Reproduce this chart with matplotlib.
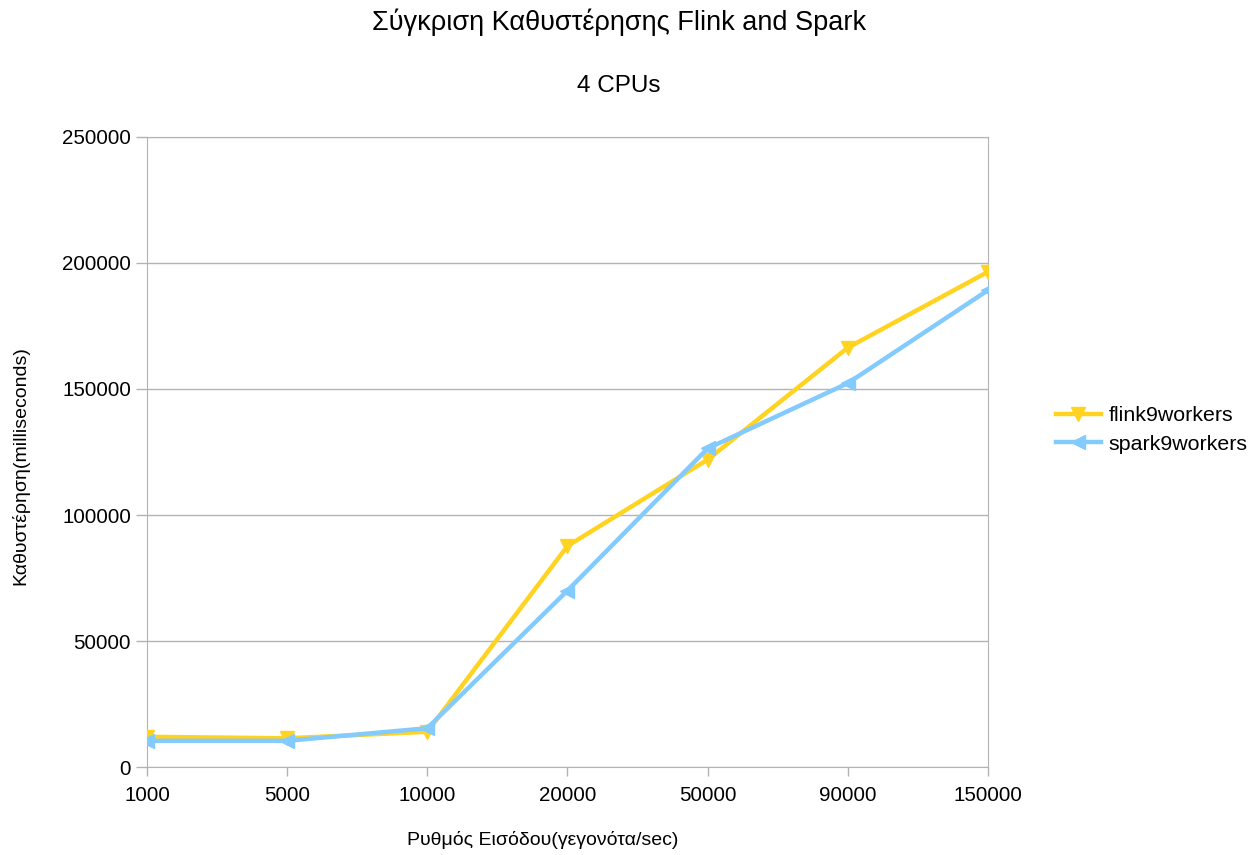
import matplotlib
matplotlib.use("Agg")
import matplotlib.pyplot as plt

categories = ["1000", "5000", "10000", "20000", "50000", "90000", "150000"]
flink = [12000, 11400, 14000, 87700, 122000, 166400, 196500]
spark = [10400, 10400, 15400, 70000, 126400, 152300, 189200]
yticks = [0, 50000, 100000, 150000, 200000, 250000]

plt.rcParams['font.family'] = ['Liberation Sans', 'DejaVu Sans']

fig = plt.figure(figsize=(12.56, 8.55), dpi=100)
ax = fig.add_axes([0.117, 0.1029, 0.6696, 0.7369])

x = list(range(len(categories)))
ax.plot(x, flink, color="#ffd320", lw=3.2, marker="v", ms=10.5, label="flink9workers", zorder=3)
ax.plot(x, spark, color="#83caff", lw=3.2, marker="<", ms=10.5, label="spark9workers", zorder=4)

ax.set_xlim(0, len(categories) - 1)
ax.set_ylim(0, 250000)
ax.set_xticks(x)
ax.set_xticklabels(categories)
ax.set_yticks(yticks)
ax.set_yticklabels([str(v) for v in yticks])
ax.grid(axis='y', color="#b3b3b3", lw=1)
ax.set_axisbelow(True)
for s in ax.spines.values():
    s.set_color("#b3b3b3")
ax.tick_params(axis='both', colors="#b3b3b3", labelcolor="#000000", labelsize=14.8, width=1)
ax.tick_params(axis='x', length=6.5, pad=7.5)
ax.tick_params(axis='y', length=8, pad=3.5)

fig.text(0.432, 0.018, "Ρυθμός Εισόδου(γεγονότα/sec)", ha='center', va='center', fontsize=14)
fig.text(0.016, 0.456, "Καθυστέρηση(milliseconds)", ha='center', va='center', fontsize=14, rotation=90)

fig.text(0.493, 0.974, "Σύγκριση Καθυστέρησης Flink and Spark", ha='center', va='center', fontsize=19.5)
fig.text(0.493, 0.899, "4 CPUs", ha='center', va='center', fontsize=17.5)

leg = ax.legend(loc='center left', bbox_to_anchor=(1.058, 0.535), frameon=False, fontsize=15.4,
                handlelength=2.1, handletextpad=0.35, labelspacing=0.45, borderpad=0.4)

fig.savefig("out.png", dpi=100)
